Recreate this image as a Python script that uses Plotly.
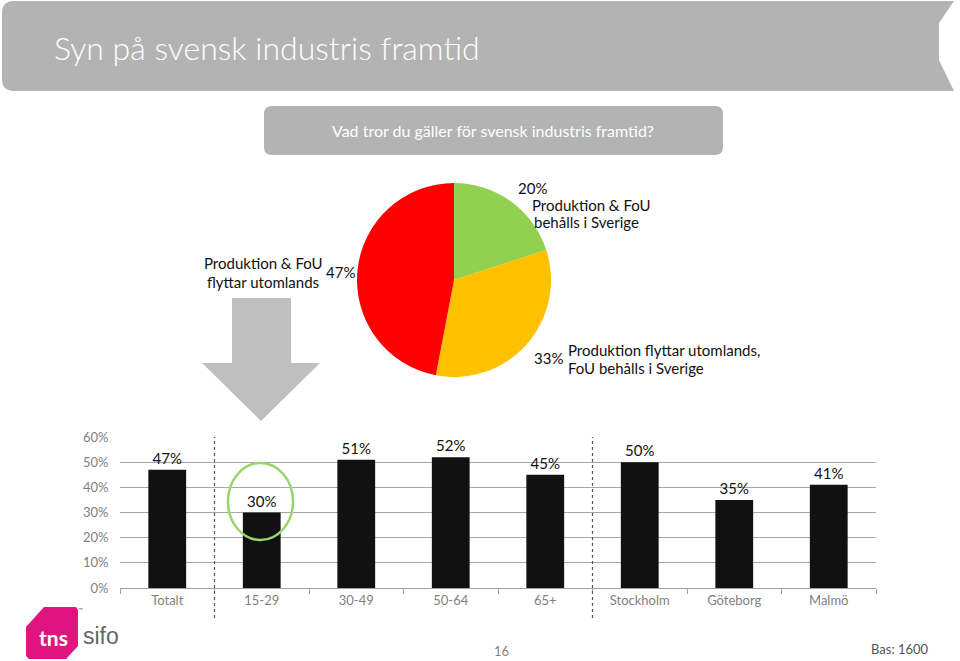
import plotly.graph_objects as go

W, H = 960, 661

# ---- data ----
pie_labels = ["Produktion & FoU behålls i Sverige",
              "Produktion flyttar utomlands, FoU behålls i Sverige",
              "Produktion & FoU flyttar utomlands"]
pie_values = [20, 33, 47]
pie_colors = ["#92D050", "#FFC000", "#FF0000"]

bar_categories = ["Totalt", "15-29", "30-49", "50-64", "65+", "Stockholm", "Göteborg", "Malmö"]
bar_values = [47, 30, 51, 52, 45, 50, 35, 41]
y_ticks = [0, 10, 20, 30, 40, 50, 60]
y_tick_labels = ["0%", "10%", "20%", "30%", "40%", "50%", "60%"]

FONT = "Lato"


def px(x, y):
    return x / W, 1 - y / H


def P(x, y):
    X, Y = px(x, y)
    return f"{X:.5f},{Y:.5f}"


def path(points):
    s = ""
    for i, (x, y) in enumerate(points):
        s += ("M" if i == 0 else "L") + P(x, y) + " "
    return s + "Z"


def rrect(x0, y0, x1, y1, r):
    return (f"M{P(x0 + r, y0)} L{P(x1 - r, y0)} Q{P(x1, y0)} {P(x1, y0 + r)} "
            f"L{P(x1, y1 - r)} Q{P(x1, y1)} {P(x1 - r, y1)} L{P(x0 + r, y1)} "
            f"Q{P(x0, y1)} {P(x0, y1 - r)} L{P(x0, y0 + r)} Q{P(x0, y0)} {P(x0 + r, y0)} Z")


def banner():
    r = 12
    return (f"M{P(2 + r, 1)} L{P(954, 1)} L{P(939, 23)} L{P(939, 60)} L{P(954, 91)} "
            f"L{P(2 + r, 91)} Q{P(2, 91)} {P(2, 91 - r)} L{P(2, 1 + r)} Q{P(2, 1)} {P(2 + r, 1)} Z")


fig = go.Figure()

# pie
pd0 = px(357, 377)
pd1 = px(551, 183)
fig.add_trace(go.Pie(
    labels=pie_labels, values=pie_values, sort=False, direction="clockwise",
    rotation=0, marker=dict(colors=pie_colors, line=dict(width=0)),
    textinfo="none", hoverinfo="label+percent", showlegend=False, automargin=False,
    domain=dict(x=[pd0[0], pd1[0]], y=[pd0[1], pd1[1]]),
))

# bars
fig.add_trace(go.Bar(
    x=bar_categories, y=bar_values, marker=dict(color="#111111", line=dict(width=0)),
    text=[f"{v}%" for v in bar_values], textposition="outside", cliponaxis=False,
    textfont=dict(family=FONT, size=15, color="#111111"), showlegend=False,
))

bx0 = 120 / W
bx1 = 876 / W
by0 = 1 - 588 / H
by1 = 1 - 437 / H

fig.update_layout(
    width=W, height=H, autosize=False, margin=dict(l=0, r=0, t=0, b=0, pad=0),
    paper_bgcolor="white", plot_bgcolor="white",
    bargap=0.6,
    font=dict(family=FONT),
    xaxis=dict(domain=[bx0, bx1], showline=True, linecolor="#a0a0a0", linewidth=1,
               ticks="outside", tickson="boundaries", ticklen=5, tickcolor="#a0a0a0",
               tickfont=dict(family=FONT, size=13, color="#7f7f7f"), showgrid=False,
               automargin=False, fixedrange=True),
    yaxis=dict(domain=[by0, by1], range=[0, 60], tickmode="array", tickvals=y_ticks,
               ticktext=y_tick_labels,
               showgrid=True, gridcolor="#a6a6a6", gridwidth=1, zeroline=False,
               tickfont=dict(family=FONT, size=13, color="#7f7f7f"),
               ticks="outside", ticklen=8, tickcolor="rgba(0,0,0,0)",
               automargin=False, fixedrange=True),
)

shapes = []
shapes.append(dict(type="path", path=banner(), xref="paper", yref="paper",
                   fillcolor="#B3B3B3", line=dict(width=0), layer="below"))
shapes.append(dict(type="path", path=rrect(264, 106, 723, 155, 8), xref="paper", yref="paper",
                   fillcolor="#B3B3B3", line=dict(width=0), layer="below"))
shapes.append(dict(type="path",
                   path=path([(232, 298), (291, 298), (291, 363), (320, 363), (261, 421),
                              (202, 363), (232, 363)]),
                   xref="paper", yref="paper", fillcolor="#BFBFBF", line=dict(width=0)))
for xb in [0.5, 4.5]:
    shapes.append(dict(type="line", xref="x", yref="paper", x0=xb, x1=xb,
                       y0=1 - 618 / H, y1=1 - 437 / H,
                       line=dict(color="#555555", width=1.2, dash="dot")))
c0 = px(228, 540)
c1 = px(293, 463)
shapes.append(dict(type="circle", xref="paper", yref="paper", x0=c0[0], y0=c0[1],
                   x1=c1[0], y1=c1[1], line=dict(color="#9BD46A", width=2.5)))
shapes.append(dict(type="path",
                   path=path([(44, 607), (76, 607), (78, 610), (78, 646), (66, 659),
                              (29, 659), (26, 656), (26, 627)]),
                   xref="paper", yref="paper", fillcolor="#E0147F", line=dict(width=0)))
fig.update_layout(shapes=shapes)


def ann(text, x, y, size=14, color="#111111", xanchor="center", family=FONT, weight="normal"):
    X, Y = px(x, y)
    fig.add_annotation(text=text, x=X, y=Y, xref="paper", yref="paper", showarrow=False,
                       xanchor=xanchor, yanchor="middle",
                       font=dict(family=family, size=size, color=color, weight=weight))


ann("Syn på svensk industris framtid", 52, 47, size=32, color="white", xanchor="left", weight=300)
ann("Vad tror du gäller för svensk industris framtid?", 493, 131, size=16, color="white")

ann("20%", 532, 188, size=15)
ann("Produktion & FoU", 591, 205, size=15)
ann("behålls i Sverige", 586, 222, size=15)
ann("Produktion & FoU", 263, 263, size=15)
ann("flyttar utomlands", 263, 282, size=15)
ann("47%", 340, 272, size=15)
ann("33%", 548, 358, size=15)
ann("Produktion flyttar utomlands,", 566, 350, size=15, xanchor="left")
ann("FoU behålls i Sverige", 566, 368, size=15, xanchor="left")

ann("<b>tns</b>", 53, 637, size=21, color="white")
ann("sifo", 101, 636, size=23, color="#666666", family="Liberation Sans")
ann("™", 80, 609, size=6, color="#666666")
ann("16", 501, 651, size=13, color="#7f7f7f")
ann("Bas: 1600", 900, 649, size=13, color="#555555")

fig.write_html("out.html")
